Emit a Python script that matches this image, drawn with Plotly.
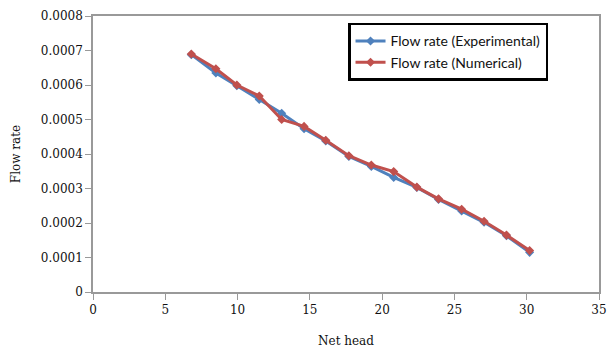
import plotly.graph_objects as go

net_head = [6.8, 8.5, 9.95, 11.5, 13.05, 14.6, 16.1, 17.7, 19.25, 20.8, 22.4, 23.9, 25.5, 27.05, 28.6, 30.2]
flow_exp = [0.000688, 0.000635, 0.000598, 0.000558, 0.000518, 0.000473, 0.000438, 0.000393, 0.000364, 0.000332, 0.000303, 0.000268, 0.000235, 0.000202, 0.000163, 0.000115]
flow_num = [0.00069, 0.000647, 0.0006, 0.000568, 0.0005, 0.00048, 0.00044, 0.000395, 0.000368, 0.000349, 0.000304, 0.00027, 0.00024, 0.000205, 0.000165, 0.00012]

y_ticks = [0, 0.0001, 0.0002, 0.0003, 0.0004, 0.0005, 0.0006, 0.0007, 0.0008]
y_tick_text = ["0", "0.0001", "0.0002", "0.0003", "0.0004", "0.0005", "0.0006", "0.0007", "0.0008"]
x_ticks = [0, 5, 10, 15, 20, 25, 30, 35]

fig = go.Figure()
fig.add_trace(go.Scatter(x=net_head, y=flow_exp, mode="lines+markers", name="Flow rate (Experimental)",
                         line=dict(color="#4F81BD", width=3),
                         marker=dict(symbol="diamond", size=7, color="#4F81BD")))
fig.add_trace(go.Scatter(x=net_head, y=flow_num, mode="lines+markers", name="Flow rate (Numerical)",
                         line=dict(color="#C0504D", width=3),
                         marker=dict(symbol="diamond", size=7, color="#C0504D")))

axis_font = dict(family="DejaVu Serif", size=12, color="#111111")
title_font = dict(family="DejaVu Serif", size=12, color="#111111")
fig.update_layout(
    width=614, height=356,
    margin=dict(l=93, r=7, t=16, b=64),
    paper_bgcolor="white", plot_bgcolor="white",
    showlegend=True,
    legend=dict(x=0.504, y=0.975, xanchor="left", yanchor="top",
                bordercolor="black", borderwidth=2.5, bgcolor="white",
                font=dict(family="Lato", size=14, color="#111111"),
                tracegroupgap=4, itemwidth=30),
    xaxis=dict(range=[0, 35], tickvals=x_ticks, showgrid=False, zeroline=False,
               showline=True, linecolor="#999999", linewidth=1.5, mirror=True,
               ticks="outside", ticklen=6, tickcolor="#999999", tickfont=axis_font,
               title=dict(text="Net head", font=title_font, standoff=20)),
    yaxis=dict(range=[0, 0.0008], tickvals=y_ticks, ticktext=y_tick_text, showgrid=False, zeroline=False,
               showline=True, linecolor="#999999", linewidth=1.5, mirror=True,
               ticks="outside", ticklen=6, tickcolor="#999999", tickfont=axis_font,
               title=dict(text="Flow rate", font=title_font, standoff=18)),
)
fig.write_html("out.html")
